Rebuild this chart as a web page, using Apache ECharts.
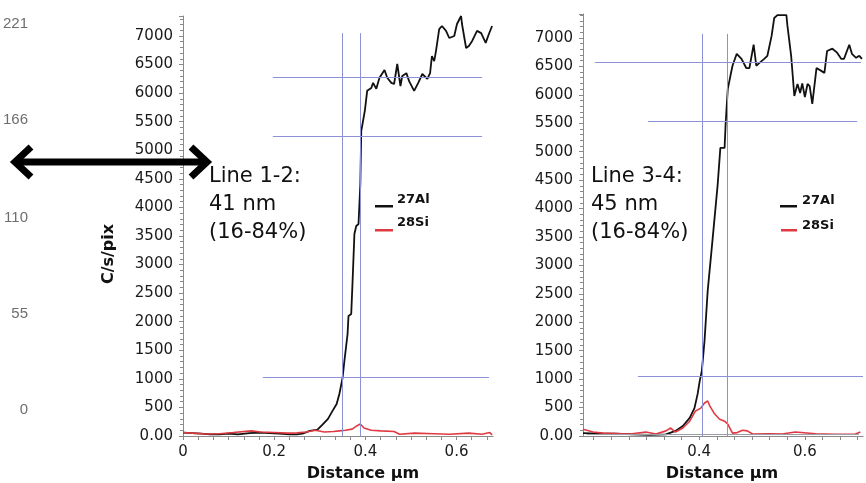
<!DOCTYPE html>
<html>
<head>
<meta charset="utf-8">
<script src="https://cdn.jsdelivr.net/npm/echarts@6/dist/echarts.min.js"></script>
<style>html,body{margin:0;padding:0;background:#fff}#c{width:866px;height:483px}</style>
</head>
<body>
<div id="c"></div>
<script>
// ---- Data ----
// Left panel: Line 1-2
var leftAlX = [0,0.02,0.04,0.06,0.08,0.1,0.12,0.146,0.17,0.19,0.21,0.234,0.25,0.262,0.278,0.295,0.306,0.318,0.328,0.337,0.343,0.35,0.354,0.361,0.363,0.369,0.372,0.376,0.38,0.385,0.389,0.391,0.393,0.396,0.399,0.404,0.413,0.417,0.424,0.431,0.442,0.448,0.457,0.463,0.47,0.477,0.481,0.49,0.496,0.507,0.516,0.525,0.536,0.542,0.546,0.551,0.555,0.562,0.568,0.577,0.584,0.595,0.601,0.61,0.612,0.621,0.627,0.634,0.645,0.654,0.664,0.671,0.678];
var leftAlY = [60,50,40,30,30,40,30,50,60,50,40,30,30,40,90,110,200,300,440,560,735,1015,1310,1785,2100,2135,2710,3535,3675,3710,4410,5340,5425,5450,5700,6040,6090,6180,6075,6270,6405,6270,6180,6160,6510,6125,6300,6350,6210,6040,6180,6335,6250,6350,6650,6560,6740,7120,7175,7090,6965,7000,7210,7350,7210,6790,6825,6910,7090,7050,6880,7035,7175];
var leftSiX = [0,0.02,0.05,0.08,0.11,0.15,0.17,0.2,0.23,0.25,0.27,0.29,0.31,0.33,0.343,0.356,0.371,0.382,0.389,0.397,0.413,0.434,0.463,0.475,0.508,0.55,0.585,0.627,0.656,0.673,0.678];
var leftSiY = [60,50,35,40,60,90,70,60,50,55,70,100,70,80,90,100,120,180,210,140,100,90,80,30,50,40,30,50,30,60,20];
// Right panel: Line 3-4
var rightAlX = [0.18,0.212,0.242,0.274,0.306,0.337,0.355,0.369,0.382,0.391,0.397,0.401,0.405,0.41,0.416,0.425,0.435,0.44,0.448,0.45,0.454,0.459,0.463,0.471,0.48,0.489,0.495,0.503,0.508,0.514,0.523,0.529,0.537,0.542,0.548,0.565,0.567,0.574,0.58,0.586,0.591,0.595,0.6,0.605,0.609,0.614,0.622,0.631,0.637,0.642,0.652,0.661,0.669,0.674,0.684,0.689,0.697,0.703,0.708];
var rightAlY = [50,40,40,30,20,30,90,175,320,490,740,970,1150,1670,2550,3430,4430,5065,5065,5490,6100,6330,6510,6720,6630,6470,6470,6880,6510,6560,6630,6685,7035,7350,7400,7400,7210,6685,5980,6190,6030,6200,5960,6190,6150,5840,6470,6420,6385,6770,6810,6740,6630,6630,6880,6720,6650,6685,6630];
var rightSiX = [0.18,0.199,0.218,0.242,0.269,0.299,0.318,0.337,0.346,0.355,0.369,0.382,0.393,0.403,0.41,0.416,0.42,0.429,0.438,0.448,0.454,0.463,0.472,0.482,0.491,0.501,0.533,0.557,0.582,0.62,0.657,0.695,0.705];
var rightSiY = [120,70,50,45,35,70,35,90,140,70,140,260,440,490,580,615,530,390,300,260,210,50,60,100,90,35,40,35,70,40,30,30,70];

// Reference lines (16-84% construction) as [x1, y1, x2, y2]
var leftRefLines = [[0.35,0,0.35,7050],[0.389,0,0.389,7050],[0.197,6283,0.656,6283],[0.197,5250,0.656,5250],[0.175,1032,0.671,1032]];
var rightRefLines = [[0.406,0,0.406,7070],[0.453,0,0.453,7070],[0.203,6580,0.706,6580],[0.303,5530,0.699,5530],[0.284,1050,0.71,1050]];
var rightBaseLine = [[0.187,25,0.702,25]];

// Ticks / labels
var yTickInterval = 500;
var leftXLabels = [0,0.2,0.4,0.6];
var rightXLabels = [0.4,0.6];
var farLeftLabels = [0,55,110,166,221];
var seriesNames = ['27Al','28Si'];
var annotations = ['Line 1-2:\n41 nm\n(16-84%)','Line 3-4:\n45 nm\n(16-84%)'];
var yTitle = 'C/s/pix';
var xTitle = 'Distance µm';

function zip(xs, ys){ var o=[]; for(var i=0;i<xs.length;i++){o.push([xs[i],ys[i]]);} return o; }
function refs(arr){ return arr.map(function(r){ return [{coord:[r[0],r[1]]},{coord:[r[2],r[3]]}]; }); }
function minorTicks(a,b){ var o=[]; for(var i=0;i<=60;i++){ var v=Math.round(i/30*1e4)/1e4; if(v>=a-1e-9 && v<=b+1e-9) o.push(v);} return o; }

var FONT = 'DejaVu Sans';
var AXIS_COLOR = '#8a8a8a';
var REF_COLOR = '#8c90d4';
var AL_COLOR = '#111111';
var SI_COLOR = '#df3a42';

function yAxisFor(grid, max){
  return {
    type:'value', gridIndex:grid, min:0, max:max, interval:yTickInterval,
    axisLine:{show:true, lineStyle:{color:AXIS_COLOR, width:1}},
    axisTick:{show:true, length:4, lineStyle:{color:AXIS_COLOR}},
    minorTick:{show:true, splitNumber:5, length:3, lineStyle:{color:AXIS_COLOR}},
    splitLine:{show:false},
    axisLabel:{showMaxLabel:false, margin:10, fontFamily:FONT, fontSize:15, color:'#1a1a1a',
      formatter:function(v){ return v===0 ? '0.00' : String(v); }}
  };
}
function xAxisFor(grid, min, max, labels){
  return {
    type:'value', gridIndex:grid, min:min, max:max,
    axisLine:{show:true, onZero:false, lineStyle:{color:AXIS_COLOR, width:1.2}},
    axisTick:{show:true, length:4, customValues:minorTicks(min,max), lineStyle:{color:AXIS_COLOR}},
    splitLine:{show:false},
    axisLabel:{customValues:labels, margin:9, fontFamily:FONT, fontSize:15, color:'#1a1a1a',
      formatter:function(v){ return String(Math.round(v*10)/10); }}
  };
}

var chart = echarts.init(document.getElementById('c'));
chart.setOption({
  animation:false,
  backgroundColor:'#ffffff',
  grid:[
    {left:30, top:24, width:10, height:386},
    {left:183, top:16, width:310, height:420},
    {left:583, top:14, width:280, height:422}
  ],
  xAxis:[
    {type:'value', gridIndex:0, min:0, max:1, show:false},
    xAxisFor(1, 0, 0.68, leftXLabels),
    xAxisFor(2, 0.18, 0.71, rightXLabels)
  ],
  yAxis:[
    {type:'value', gridIndex:0, min:0, max:221, interval:55.25,
      axisLine:{show:false}, axisTick:{show:false}, splitLine:{show:false},
      axisLabel:{margin:3, fontFamily:'Liberation Sans', fontSize:15, color:'#6e6e6e',
        customValues:farLeftLabels, formatter:function(v){ return String(Math.round(v)); }}},
    yAxisFor(1, 7350),
    yAxisFor(2, 7420)
  ],
  series:[
    {type:'line', xAxisIndex:0, yAxisIndex:0, data:[], silent:true},
    {name:seriesNames[0], type:'line', xAxisIndex:1, yAxisIndex:1, data:zip(leftAlX,leftAlY), showSymbol:false,
      lineStyle:{color:AL_COLOR, width:1.8}, itemStyle:{color:AL_COLOR},
      markLine:{silent:true, symbol:['none','none'], label:{show:false}, lineStyle:{color:REF_COLOR, width:1, type:'solid'}, data:refs(leftRefLines)}},
    {name:seriesNames[1], type:'line', xAxisIndex:1, yAxisIndex:1, data:zip(leftSiX,leftSiY), showSymbol:false,
      lineStyle:{color:SI_COLOR, width:1.6}, itemStyle:{color:SI_COLOR}},
    {name:seriesNames[0], type:'line', xAxisIndex:2, yAxisIndex:2, data:zip(rightAlX,rightAlY), showSymbol:false,
      lineStyle:{color:AL_COLOR, width:1.8}, itemStyle:{color:AL_COLOR},
      markLine:{silent:true, symbol:['none','none'], label:{show:false}, lineStyle:{color:REF_COLOR, width:1, type:'solid'},
        data:refs(rightRefLines).concat(refs(rightBaseLine).map(function(p){ p[0].lineStyle={color:'#9a9ca8'}; return p; }))}},
    {name:seriesNames[1], type:'line', xAxisIndex:2, yAxisIndex:2, data:zip(rightSiX,rightSiY), showSymbol:false,
      lineStyle:{color:SI_COLOR, width:1.6}, itemStyle:{color:SI_COLOR}}
  ],
  graphic:[
    // double arrow
    {type:'line', z:100, shape:{x1:16,y1:162,x2:206,y2:162}, style:{stroke:'#000', lineWidth:7}},
    {type:'polyline', z:100, shape:{points:[[31,147],[15,162],[31,177]]}, style:{stroke:'#000', lineWidth:7, fill:null, lineJoin:'miter'}},
    {type:'polyline', z:100, shape:{points:[[191,147],[207,162],[191,177]]}, style:{stroke:'#000', lineWidth:7, fill:null, lineJoin:'miter'}},
    // y-axis title
    {type:'text', z:100, x:109, y:254, rotation:Math.PI/2, style:{text:yTitle, fontFamily:FONT, fontWeight:'bold', fontSize:16, fill:'#111', textAlign:'center', textVerticalAlign:'middle'}},
    // annotations
    {type:'text', z:100, x:209, y:163, style:{text:annotations[0], fontFamily:FONT, fontSize:21, lineHeight:28, fill:'#111', textVerticalAlign:'top'}},
    {type:'text', z:100, x:591, y:163, style:{text:annotations[1], fontFamily:FONT, fontSize:21, lineHeight:28, fill:'#111', textVerticalAlign:'top'}},
    // legends
    {type:'rect', z:100, shape:{x:375,y:205,width:18,height:2.5}, style:{fill:AL_COLOR}},
    {type:'rect', z:100, shape:{x:375,y:229,width:18,height:2.5}, style:{fill:SI_COLOR}},
    {type:'text', z:100, x:397, y:200, style:{text:seriesNames[0], fontFamily:FONT, fontWeight:'bold', fontSize:13, fill:'#111', textVerticalAlign:'middle'}},
    {type:'text', z:100, x:397, y:223, style:{text:seriesNames[1], fontFamily:FONT, fontWeight:'bold', fontSize:13, fill:'#111', textVerticalAlign:'middle'}},
    {type:'rect', z:100, shape:{x:780,y:205,width:17,height:2.5}, style:{fill:AL_COLOR}},
    {type:'rect', z:100, shape:{x:781,y:229,width:16,height:2.5}, style:{fill:SI_COLOR}},
    {type:'text', z:100, x:802, y:201, style:{text:seriesNames[0], fontFamily:FONT, fontWeight:'bold', fontSize:13, fill:'#111', textVerticalAlign:'middle'}},
    {type:'text', z:100, x:802, y:226, style:{text:seriesNames[1], fontFamily:FONT, fontWeight:'bold', fontSize:13, fill:'#111', textVerticalAlign:'middle'}},
    // x axis titles
    {type:'text', z:100, x:363, y:474, style:{text:xTitle, fontFamily:FONT, fontWeight:'bold', fontSize:16, fill:'#111', textAlign:'center', textVerticalAlign:'middle'}},
    {type:'text', z:100, x:722, y:474, style:{text:xTitle, fontFamily:FONT, fontWeight:'bold', fontSize:16, fill:'#111', textAlign:'center', textVerticalAlign:'middle'}}
  ]
});
</script>
</body>
</html>
